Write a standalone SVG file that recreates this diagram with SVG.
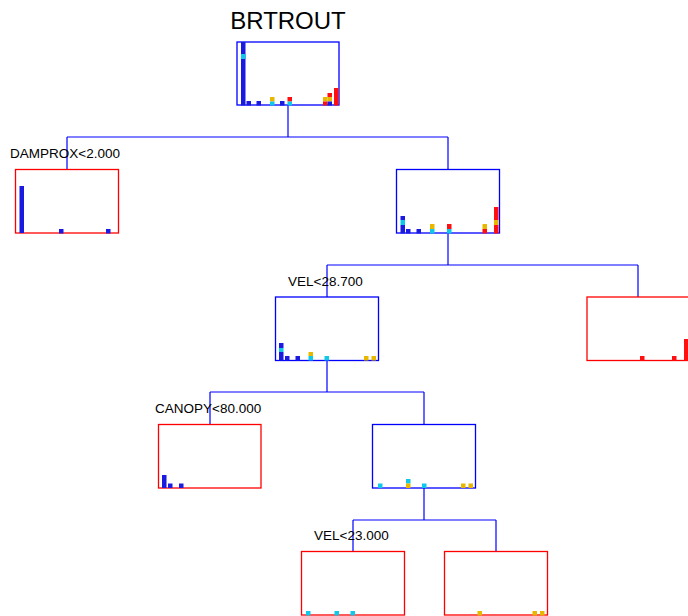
<svg xmlns="http://www.w3.org/2000/svg" width="688" height="616" viewBox="0 0 688 616">
<style>
.nb{fill:#fff;stroke:#0000ff;stroke-width:1.3}
.nr{fill:#fff;stroke:#ff0000;stroke-width:1.3}
.ln{fill:none;stroke:#0000ff;stroke-width:1.2}
.b{fill:#1a1ae0}
.c{fill:#10c8e8}
.g{fill:#e8b800}
.r{fill:#ff1010}
.lbl{font-family:"Liberation Sans",Arial,sans-serif;font-size:13.5px;fill:#000}
.ttl{font-family:"Liberation Sans",Arial,sans-serif;font-size:24px;fill:#000}
</style>
<rect width="688" height="616" fill="#fff"/>
<g id="connectors">
<path class="ln" d="M288,105 V137 M67,137 H448 M67,137 V169 M448,137 V169"/>
<path class="ln" d="M448,233 V265 M327,265 H638 M327,265 V297 M638,265 V297"/>
<path class="ln" d="M327,360 V392 M210,392 H424 M210,392 V424 M424,392 V424"/>
<path class="ln" d="M424,488 V520 M353,520 H496 M353,520 V551 M496,520 V551"/>
</g>
<text class="ttl" x="288" y="29" text-anchor="middle">BRTROUT</text>
<g id="root">
<rect class="nb" x="237" y="42" width="102" height="63"/>
<rect class="b" x="241" y="42" width="4.5" height="63.5"/>
<rect class="c" x="241" y="54" width="4.5" height="5"/>
<rect class="b" x="246.5" y="101" width="4.5" height="4.5"/>
<rect class="b" x="256.5" y="101" width="4.5" height="4.5"/>
<rect class="g" x="270" y="97" width="4.5" height="4.5"/>
<rect class="c" x="270" y="101.5" width="4.5" height="4"/>
<rect class="b" x="280" y="101" width="4.5" height="4.5"/>
<rect class="r" x="287.5" y="97" width="4.5" height="4.5"/>
<rect class="c" x="287.5" y="101.5" width="4.5" height="4"/>
<rect class="g" x="323" y="97" width="4.5" height="4.5"/>
<rect class="r" x="323" y="101.5" width="4.5" height="4"/>
<rect class="r" x="327.5" y="93" width="4.5" height="4"/>
<rect class="g" x="327.5" y="97" width="4.5" height="4.5"/>
<rect class="b" x="327.5" y="101.5" width="4.5" height="4"/>
<rect class="r" x="334" y="88" width="4.5" height="17.5"/>
</g>
<g id="n-damprox">
<rect class="nr" x="15.5" y="169.5" width="103" height="63.5"/>
<rect class="b" x="19.5" y="186" width="4.5" height="47"/>
<rect class="b" x="59" y="229" width="4.5" height="4.5"/>
<rect class="b" x="106" y="229" width="4.5" height="4.5"/>
<text class="lbl" x="10" y="158">DAMPROX&lt;2.000</text>
</g>
<g id="n-right1">
<rect class="nb" x="396.5" y="169.5" width="103" height="63.5"/>
<rect class="b" x="400.5" y="216" width="4.5" height="4"/>
<rect class="c" x="400.5" y="220" width="4.5" height="5"/>
<rect class="b" x="400.5" y="225" width="4.5" height="8.5"/>
<rect class="b" x="406" y="229" width="4.5" height="4.5"/>
<rect class="b" x="416.5" y="229" width="4.5" height="4.5"/>
<rect class="g" x="430" y="224" width="4.5" height="5"/>
<rect class="c" x="430" y="229" width="4.5" height="4.5"/>
<rect class="r" x="447" y="224" width="4.5" height="5"/>
<rect class="c" x="447" y="229" width="4.5" height="4.5"/>
<rect class="g" x="482.5" y="224" width="4.5" height="5"/>
<rect class="r" x="482.5" y="229" width="4.5" height="4.5"/>
<rect class="r" x="494" y="207" width="4.5" height="13"/>
<rect class="g" x="494" y="220" width="4.5" height="5"/>
<rect class="r" x="494" y="225" width="4.5" height="8.5"/>
</g>
<g id="n-vel1">
<rect class="nb" x="275.5" y="297" width="103" height="63.5"/>
<rect class="b" x="279" y="343" width="4.5" height="5"/>
<rect class="c" x="279" y="348" width="4.5" height="4"/>
<rect class="b" x="279" y="352" width="4.5" height="8.5"/>
<rect class="b" x="285" y="356" width="4.5" height="4.5"/>
<rect class="b" x="295.5" y="356" width="4.5" height="4.5"/>
<rect class="g" x="308.5" y="352" width="4.5" height="4"/>
<rect class="c" x="308.5" y="356" width="4.5" height="4.5"/>
<rect class="c" x="324.5" y="356" width="4.5" height="4.5"/>
<rect class="g" x="364" y="356" width="4.5" height="4.5"/>
<rect class="g" x="371.5" y="356" width="4.5" height="4.5"/>
<text class="lbl" x="288" y="286">VEL&lt;28.700</text>
</g>
<g id="n-right2">
<rect class="nr" x="587" y="297" width="103" height="63.5"/>
<rect class="r" x="640" y="356" width="4.5" height="4.5"/>
<rect class="r" x="672" y="356" width="4.5" height="4.5"/>
<rect class="r" x="684" y="339" width="4.5" height="21.5"/>
</g>
<g id="n-canopy">
<rect class="nr" x="158.5" y="424.5" width="102.5" height="63.5"/>
<rect class="b" x="162" y="475" width="4.5" height="13"/>
<rect class="b" x="168" y="483.5" width="4.5" height="4.5"/>
<rect class="b" x="179" y="483.5" width="4.5" height="4.5"/>
<text class="lbl" x="155" y="413">CANOPY&lt;80.000</text>
</g>
<g id="n-right3">
<rect class="nb" x="372.5" y="424.5" width="103" height="63.5"/>
<rect class="c" x="378" y="483.5" width="4.5" height="4.5"/>
<rect class="c" x="406" y="479" width="4.5" height="4.5"/>
<rect class="g" x="406" y="483.5" width="4.5" height="4.5"/>
<rect class="c" x="422" y="483.5" width="4.5" height="4.5"/>
<rect class="g" x="461" y="483.5" width="4.5" height="4.5"/>
<rect class="g" x="468.5" y="483.5" width="4.5" height="4.5"/>
</g>
<g id="n-vel2">
<rect class="nr" x="301.5" y="551.5" width="103" height="63.5"/>
<rect class="c" x="306" y="611" width="4.5" height="4.5"/>
<rect class="c" x="334.5" y="611" width="4.5" height="4.5"/>
<rect class="c" x="350.5" y="611" width="4.5" height="4.5"/>
<text class="lbl" x="314" y="540">VEL&lt;23.000</text>
</g>
<g id="n-right4">
<rect class="nr" x="444.5" y="551.5" width="103" height="63.5"/>
<rect class="g" x="477.5" y="611" width="4.5" height="4.5"/>
<rect class="g" x="532.5" y="611" width="4.5" height="4.5"/>
<rect class="g" x="540" y="611" width="4.5" height="4.5"/>
</g>
</svg>
